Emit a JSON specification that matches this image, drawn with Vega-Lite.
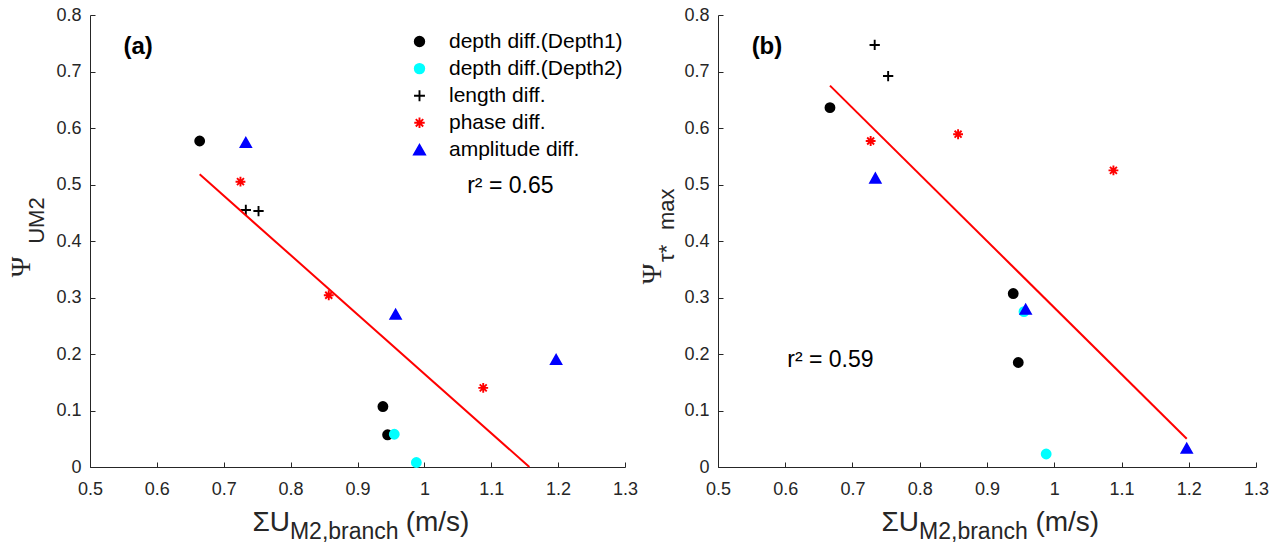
{
  "$schema": "https://vega.github.io/schema/vega-lite/v6.json",
  "background": "white",
  "padding": {"left": 8, "top": 6, "right": 4, "bottom": 4},
  "config": {
    "view": {"stroke": null},
    "font": "Liberation Sans",
    "axis": {
      "grid": false,
      "domainColor": "#262626",
      "domainWidth": 1,
      "tickColor": "#262626",
      "tickWidth": 1,
      "tickSize": -5,
      "labelColor": "#262626",
      "labelFont": "Liberation Sans",
      "labelFontSize": 18,
      "labelFlush": false,
      "labelOverlap": false,
      "title": null
    },
    "axisX": {"labelPadding": 18},
    "axisY": {"labelPadding": 14}
  },
  "datasets": {
    "pts": [
      {"panel": "a", "group": "depth diff.(Depth1)", "x": 0.664, "y": 0.577},
      {"panel": "a", "group": "depth diff.(Depth1)", "x": 0.938, "y": 0.107},
      {"panel": "a", "group": "depth diff.(Depth1)", "x": 0.945, "y": 0.057},
      {"panel": "a", "group": "depth diff.(Depth2)", "x": 0.955, "y": 0.058},
      {"panel": "a", "group": "depth diff.(Depth2)", "x": 0.988, "y": 0.008},
      {"panel": "a", "group": "length diff.", "x": 0.733, "y": 0.455},
      {"panel": "a", "group": "length diff.", "x": 0.752, "y": 0.453},
      {"panel": "a", "group": "phase diff.", "x": 0.725, "y": 0.505},
      {"panel": "a", "group": "phase diff.", "x": 0.857, "y": 0.304},
      {"panel": "a", "group": "phase diff.", "x": 1.088, "y": 0.14},
      {"panel": "a", "group": "amplitude diff.", "x": 0.733, "y": 0.574},
      {"panel": "a", "group": "amplitude diff.", "x": 0.957, "y": 0.27},
      {"panel": "a", "group": "amplitude diff.", "x": 1.197, "y": 0.19},
      {"panel": "b", "group": "depth diff.(Depth1)", "x": 0.6665, "y": 0.636},
      {"panel": "b", "group": "depth diff.(Depth1)", "x": 0.939, "y": 0.307},
      {"panel": "b", "group": "depth diff.(Depth1)", "x": 0.9465, "y": 0.185},
      {"panel": "b", "group": "depth diff.(Depth2)", "x": 0.955, "y": 0.275},
      {"panel": "b", "group": "depth diff.(Depth2)", "x": 0.988, "y": 0.023},
      {"panel": "b", "group": "length diff.", "x": 0.733, "y": 0.747},
      {"panel": "b", "group": "length diff.", "x": 0.753, "y": 0.692},
      {"panel": "b", "group": "phase diff.", "x": 0.727, "y": 0.577},
      {"panel": "b", "group": "phase diff.", "x": 0.857, "y": 0.589},
      {"panel": "b", "group": "phase diff.", "x": 1.088, "y": 0.525},
      {"panel": "b", "group": "amplitude diff.", "x": 0.734, "y": 0.511},
      {"panel": "b", "group": "amplitude diff.", "x": 0.9575, "y": 0.279},
      {"panel": "b", "group": "amplitude diff.", "x": 1.197, "y": 0.033}
    ],
    "fit": [
      {"panel": "a", "x": 0.664, "y": 0.518},
      {"panel": "a", "x": 1.157, "y": 0.0},
      {"panel": "b", "x": 0.6665, "y": 0.675},
      {"panel": "b", "x": 1.197, "y": 0.05}
    ]
  },
  "bounds": "flush",
  "spacing": 93,
  "resolve": {"legend": {"shape": "independent", "fill": "independent", "stroke": "independent"}},
  "hconcat": [
    {
      "width": 535,
      "height": 452,
      "layer": [
        {
          "data": {"name": "pts"},
          "transform": [{"filter": "datum.panel == 'a'"}],
          "mark": {"type": "point", "size": 80, "strokeWidth": 1.9, "opacity": 1},
          "encoding": {
            "x": {"field": "x", "type": "quantitative", "scale": {"domain": [0.5, 1.3], "nice": false, "zero": false}, "axis": {"values": [0.5, 0.6, 0.7, 0.8, 0.9, 1, 1.1, 1.2, 1.3], "format": "~g"}},
            "y": {"field": "y", "type": "quantitative", "scale": {"domain": [0, 0.8], "nice": false, "zero": false}, "axis": {"values": [0, 0.1, 0.2, 0.3, 0.4, 0.5, 0.6, 0.7, 0.8], "format": "~g"}},
            "shape": {"field": "group", "type": "nominal",
              "scale": {"domain": ["depth diff.(Depth1)", "depth diff.(Depth2)", "length diff.", "phase diff.", "amplitude diff."],
                "range": ["circle", "circle", "M-1.15,0L1.15,0M0,-1.15L0,1.15", "M-1.1,0L1.1,0M0,-1.1L0,1.1M-0.78,-0.78L0.78,0.78M-0.78,0.78L0.78,-0.78", "M0,-1.06L1.16,1L-1.16,1Z"]},
              "legend": {"title": null, "orient": "none", "legendX": 319, "legendY": 16, "padding": 0, "rowPadding": 5.1, "labelOffset": 19, "labelFontSize": 21, "labelFont": "Liberation Sans", "labelColor": "#000000", "symbolStrokeWidth": 1.9, "symbolSize": 90, "labelLimit": 400}},
            "fill": {"field": "group", "type": "nominal",
              "scale": {"domain": ["depth diff.(Depth1)", "depth diff.(Depth2)", "length diff.", "phase diff.", "amplitude diff."],
                "range": ["#000000", "#00ffff", "transparent", "transparent", "#0000ff"]},
              "legend": {"title": null, "orient": "none", "legendX": 319, "legendY": 16, "padding": 0, "rowPadding": 5.1, "labelOffset": 19, "labelFontSize": 21, "labelFont": "Liberation Sans", "labelColor": "#000000", "symbolStrokeWidth": 1.9, "symbolSize": 90, "labelLimit": 400}},
            "stroke": {"field": "group", "type": "nominal",
              "scale": {"domain": ["depth diff.(Depth1)", "depth diff.(Depth2)", "length diff.", "phase diff.", "amplitude diff."],
                "range": ["#000000", "#00ffff", "#000000", "#ff0000", "#0000ff"]},
              "legend": {"title": null, "orient": "none", "legendX": 319, "legendY": 16, "padding": 0, "rowPadding": 5.1, "labelOffset": 19, "labelFontSize": 21, "labelFont": "Liberation Sans", "labelColor": "#000000", "symbolStrokeWidth": 1.9, "symbolSize": 90, "labelLimit": 400}}
          }
        },
        {
          "data": {"name": "fit"},
          "transform": [{"filter": "datum.panel == 'a'"}],
          "mark": {"type": "line", "color": "#ff0000", "strokeWidth": 2},
          "encoding": {"x": {"field": "x", "type": "quantitative"}, "y": {"field": "y", "type": "quantitative"}}
        },
        {
          "data": {"values": [{}]},
          "mark": {"type": "text", "text": "(a)", "fontSize": 24, "fontWeight": "bold", "align": "left", "baseline": "middle", "color": "#000000"},
          "encoding": {"x": {"datum": 0.55, "type": "quantitative"}, "y": {"datum": 0.743, "type": "quantitative"}}
        },
        {
          "data": {"values": [{}]},
          "mark": {"type": "text", "text": "r² = 0.65", "fontSize": 23, "align": "left", "baseline": "alphabetic", "color": "#000000"},
          "encoding": {"x": {"datum": 1.064, "type": "quantitative"}, "y": {"datum": 0.485, "type": "quantitative"}}
        },
        {
          "data": {"values": [{}]},
          "mark": {"type": "text", "text": "ΣU", "fontSize": 28, "align": "right", "baseline": "alphabetic", "color": "#262626"},
          "encoding": {"x": {"datum": 0.799, "type": "quantitative"}, "y": {"datum": -0.1133, "type": "quantitative"}}
        },
        {
          "data": {"values": [{}]},
          "mark": {"type": "text", "text": "M2,branch", "fontSize": 23, "align": "left", "baseline": "alphabetic", "color": "#262626"},
          "encoding": {"x": {"datum": 0.799, "type": "quantitative"}, "y": {"datum": -0.127, "type": "quantitative"}}
        },
        {
          "data": {"values": [{}]},
          "mark": {"type": "text", "text": "(m/s)", "fontSize": 28, "align": "left", "baseline": "alphabetic", "color": "#262626"},
          "encoding": {"x": {"datum": 0.972, "type": "quantitative"}, "y": {"datum": -0.1133, "type": "quantitative"}}
        },
        {
          "data": {"values": [{}]},
          "mark": {"type": "text", "text": "Ψ", "font": "Liberation Serif", "fontSize": 28, "angle": 270, "align": "center", "baseline": "alphabetic", "color": "#262626"},
          "encoding": {"x": {"datum": 0.4103, "type": "quantitative"}, "y": {"datum": 0.354, "type": "quantitative"}}
        },
        {
          "data": {"values": [{}]},
          "mark": {"type": "text", "text": "UM2", "fontSize": 22, "angle": 270, "align": "left", "baseline": "alphabetic", "color": "#262626"},
          "encoding": {"x": {"datum": 0.4312, "type": "quantitative"}, "y": {"datum": 0.395, "type": "quantitative"}}
        }
      ]
    },
    {
      "width": 538,
      "height": 452,
      "layer": [
        {
          "data": {"name": "pts"},
          "transform": [{"filter": "datum.panel == 'b'"}],
          "mark": {"type": "point", "size": 80, "strokeWidth": 1.9, "opacity": 1},
          "encoding": {
            "x": {"field": "x", "type": "quantitative", "scale": {"domain": [0.5, 1.3], "nice": false, "zero": false}, "axis": {"values": [0.5, 0.6, 0.7, 0.8, 0.9, 1, 1.1, 1.2, 1.3], "format": "~g"}},
            "y": {"field": "y", "type": "quantitative", "scale": {"domain": [0, 0.8], "nice": false, "zero": false}, "axis": {"values": [0, 0.1, 0.2, 0.3, 0.4, 0.5, 0.6, 0.7, 0.8], "format": "~g"}},
            "shape": {"field": "group", "type": "nominal", "legend": null},
            "fill": {"field": "group", "type": "nominal", "legend": null},
            "stroke": {"field": "group", "type": "nominal", "legend": null}
          }
        },
        {
          "data": {"name": "fit"},
          "transform": [{"filter": "datum.panel == 'b'"}],
          "mark": {"type": "line", "color": "#ff0000", "strokeWidth": 2},
          "encoding": {"x": {"field": "x", "type": "quantitative"}, "y": {"field": "y", "type": "quantitative"}}
        },
        {
          "data": {"values": [{}]},
          "mark": {"type": "text", "text": "(b)", "fontSize": 24, "fontWeight": "bold", "align": "left", "baseline": "middle", "color": "#000000"},
          "encoding": {"x": {"datum": 0.55, "type": "quantitative"}, "y": {"datum": 0.743, "type": "quantitative"}}
        },
        {
          "data": {"values": [{}]},
          "mark": {"type": "text", "text": "r² = 0.59", "fontSize": 23, "align": "left", "baseline": "alphabetic", "color": "#000000"},
          "encoding": {"x": {"datum": 0.603, "type": "quantitative"}, "y": {"datum": 0.1775, "type": "quantitative"}}
        },
        {
          "data": {"values": [{}]},
          "mark": {"type": "text", "text": "ΣU", "fontSize": 28, "align": "right", "baseline": "alphabetic", "color": "#262626"},
          "encoding": {"x": {"datum": 0.799, "type": "quantitative"}, "y": {"datum": -0.1133, "type": "quantitative"}}
        },
        {
          "data": {"values": [{}]},
          "mark": {"type": "text", "text": "M2,branch", "fontSize": 23, "align": "left", "baseline": "alphabetic", "color": "#262626"},
          "encoding": {"x": {"datum": 0.799, "type": "quantitative"}, "y": {"datum": -0.127, "type": "quantitative"}}
        },
        {
          "data": {"values": [{}]},
          "mark": {"type": "text", "text": "(m/s)", "fontSize": 28, "align": "left", "baseline": "alphabetic", "color": "#262626"},
          "encoding": {"x": {"datum": 0.972, "type": "quantitative"}, "y": {"datum": -0.1133, "type": "quantitative"}}
        },
        {
          "data": {"values": [{}]},
          "mark": {"type": "text", "text": "Ψ", "font": "Liberation Serif", "fontSize": 28, "angle": 270, "align": "center", "baseline": "alphabetic", "color": "#262626"},
          "encoding": {"x": {"datum": 0.4152, "type": "quantitative"}, "y": {"datum": 0.3416, "type": "quantitative"}}
        },
        {
          "data": {"values": [{}]},
          "mark": {"type": "text", "text": "τ*", "fontSize": 22, "angle": 270, "align": "left", "baseline": "alphabetic", "color": "#262626"},
          "encoding": {"x": {"datum": 0.4346, "type": "quantitative"}, "y": {"datum": 0.3628, "type": "quantitative"}}
        },
        {
          "data": {"values": [{}]},
          "mark": {"type": "text", "text": "max", "fontSize": 22, "angle": 270, "align": "left", "baseline": "alphabetic", "color": "#262626"},
          "encoding": {"x": {"datum": 0.4346, "type": "quantitative"}, "y": {"datum": 0.4195, "type": "quantitative"}}
        }
      ]
    }
  ]
}
